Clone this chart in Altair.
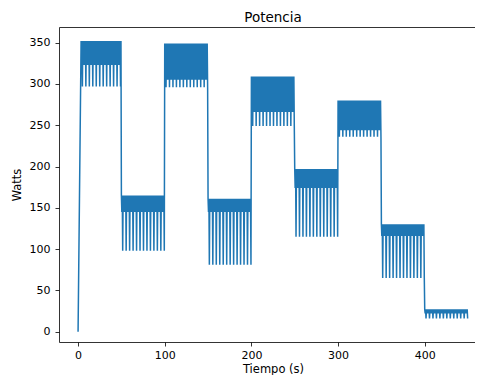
import altair as alt
import pandas as pd

# Stage structure (time in s, power in W)
stage_start = [0, 50, 100, 150, 200, 250, 300, 350, 400]
stage_first = [3.5, 50, 100, 150, 200, 250, 300, 350, 400]
stage_len = 50
top_level = [352, 165, 349, 161, 309, 197, 280, 130, 27]
band_level = [323, 145, 305, 145, 266, 174, 244, 116, 22]
spike_level = [297, 98, 296, 81, 249, 115, 236, 65, 16]
sample_step = 0.5
spike_every = 8

x_ticks = [0, 100, 200, 300, 400]
y_ticks = [0, 50, 100, 150, 200, 250, 300, 350]

rows = [{"t": 0.0, "p": 0.0}]
for k in range(len(stage_start)):
    t0 = stage_first[k]
    t_end = stage_start[k] + stage_len
    i = 0
    t = t0
    while t < t_end - 1e-9:
        if i % spike_every == 3:
            v = spike_level[k]
        elif i % 2 == 0:
            v = top_level[k]
        else:
            v = band_level[k]
        rows.append({"t": t, "p": v})
        i += 1
        t = t0 + sample_step * i
df = pd.DataFrame(rows)

xscale = alt.Scale(domain=[-22, 458], nice=False, zero=False)
yscale = alt.Scale(domain=[-12.5, 369], nice=False, zero=False)

yaxis = alt.Axis(values=y_ticks, title="Watts", orient="left",
                 labelPadding=5, titlePadding=7, format="d")

line = alt.Chart(df).mark_line(color="#1f77b4", strokeWidth=1.5, clip=True).encode(
    x=alt.X("t:Q", scale=xscale,
            axis=alt.Axis(values=x_ticks, title="Tiempo (s)", orient="bottom",
                          labelPadding=3, titlePadding=3, titleX=214, format="d")),
    y=alt.Y("p:Q", scale=yscale, axis=yaxis),
)

top_spine = alt.Chart(df).mark_line(opacity=0).encode(
    x=alt.X("t:Q", scale=xscale,
            axis=alt.Axis(orient="top", labels=False, ticks=False, title=None, domain=True)),
    y=alt.Y("p:Q", scale=yscale, axis=yaxis),
)

chart = alt.layer(line, top_spine).resolve_axis(x="independent").properties(
    width=416,
    height=315,
    title=alt.TitleParams("Potencia", font="DejaVu Sans", fontSize=13.5,
                          fontWeight="normal", color="black", offset=3, dx=6),
    autosize=alt.AutoSizeParams(type="none"),
    padding={"left": 51, "top": 19, "right": 0, "bottom": 33},
).configure_view(stroke=None).configure_axis(
    grid=False,
    domainColor="black",
    domainWidth=0.8,
    tickColor="black",
    tickWidth=0.8,
    tickSize=4,
    labelColor="black",
    labelFont="DejaVu Sans",
    labelFontSize=11,
    titleFont="DejaVu Sans",
    titleFontSize=11.5,
    titleFontWeight="normal",
    titleColor="black",
)

chart.save("out.html", embed_options={"renderer": "svg", "actions": False})
